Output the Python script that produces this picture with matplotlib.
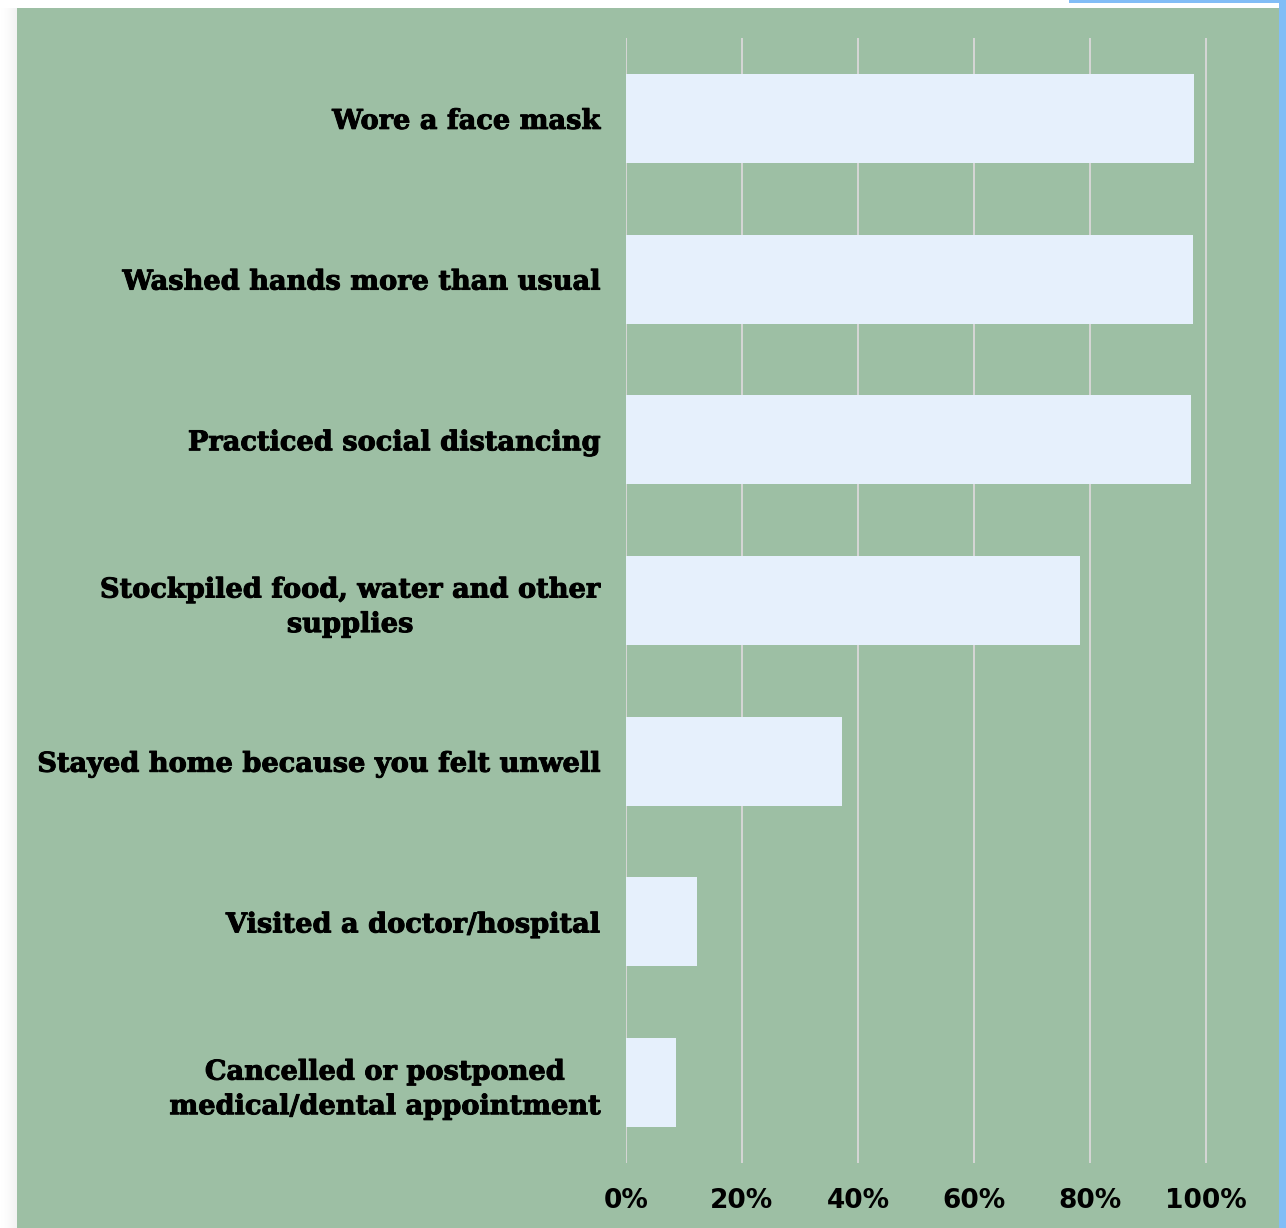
import matplotlib.pyplot as plt
from matplotlib.patches import Rectangle
import matplotlib.patheffects as pe

# survey answers, top to bottom
actions = [
    "Wore a face mask",
    "Washed hands more than usual",
    "Practiced social distancing",
    "Stockpiled food, water and other\nsupplies",
    "Stayed home because you felt unwell",
    "Visited a doctor/hospital",
    "Cancelled or postponed\nmedical/dental appointment",
]
shares = [97.9, 97.7, 97.4, 78.3, 37.2, 12.2, 8.6]
ticks = [0, 20, 40, 60, 80, 100]
tick_labels = ["0%", "20%", "40%", "60%", "80%", "100%"]

W, H = 1286, 1228
green = "#9dbfa4"
bar_col = "#e6f0fc"

fig = plt.figure(figsize=(W / 100, H / 100), dpi=100)
fig.patch.set_facecolor("white")

# soft shadow on the left of the card
for i in range(17):
    a = 0.05 * (1 - i / 17) ** 1.5
    fig.patches.append(Rectangle(((17 - i - 1) / W, 0), 1 / W, (H - 8) / H,
                                 transform=fig.transFigure, color="black",
                                 alpha=a, lw=0, zorder=0))
# green card
fig.patches.append(Rectangle((17 / W, 0), (1279 - 17) / W, (H - 8) / H,
                             transform=fig.transFigure, color=green, lw=0, zorder=1))
# blue selection edge at the top right
fig.patches.append(Rectangle((1069 / W, (H - 3) / H), (W - 1069) / W, 3 / H,
                             transform=fig.transFigure, color="#82bdf6", lw=0, zorder=2))
fig.patches.append(Rectangle((1279 / W, 0), (W - 1279) / W, 1,
                             transform=fig.transFigure, color="#82bdf6", lw=0, zorder=2))

ax = fig.add_axes([626 / W, 1 - 1163 / H, (1235 - 626) / W, (1163 - 38) / H])
ax.set_zorder(5)
ax.set_facecolor("none")

ypos = list(range(len(actions)))
ax.barh(ypos, shares, height=0.553, color=bar_col, zorder=3)
ax.set_ylim(len(actions) - 0.5, -0.5)
ax.set_xlim(0, 105)

ax.set_xticks(ticks)
ax.set_xticklabels(tick_labels, fontfamily="DejaVu Sans", fontweight="bold",
                   fontsize=19)
ax.set_yticks(ypos)
ax.set_yticklabels(actions, fontfamily="DejaVu Serif", fontweight="bold",
                   fontsize=19.6, multialignment="center", linespacing=1.36)
# heavier strokes for the category names
for lbl in ax.get_yticklabels():
    lbl.set_path_effects([pe.withStroke(linewidth=0.7, foreground="black")])
ax.tick_params(axis="both", length=0)
ax.tick_params(axis="x", pad=18)
ax.tick_params(axis="y", pad=18.5)
ax.grid(axis="x", color="#d6d6d6", lw=1.4, zorder=1)
ax.set_axisbelow(True)
for s in ax.spines.values():
    s.set_visible(False)

fig.savefig("out.png", dpi=100)
